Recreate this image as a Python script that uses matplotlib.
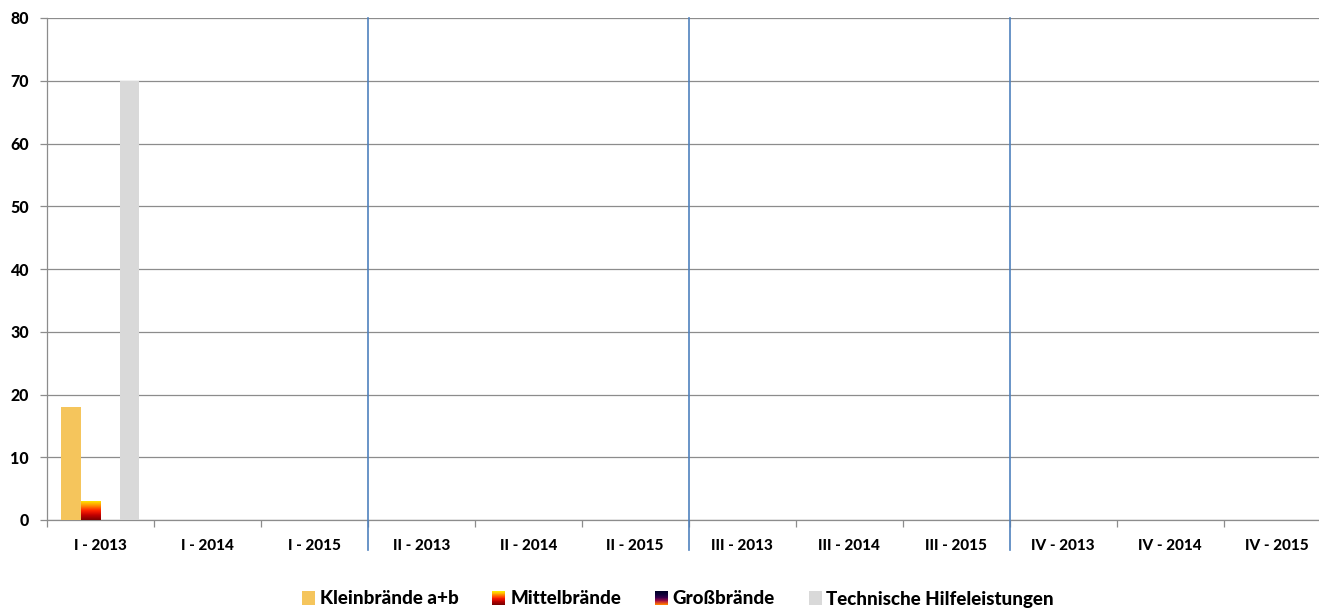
import numpy as np
import matplotlib
matplotlib.use("Agg")
import matplotlib.pyplot as plt
from matplotlib.colors import LinearSegmentedColormap
from matplotlib.patches import Rectangle
from matplotlib.legend_handler import HandlerBase

# ---- data -------------------------------------------------------------
categories = ["I - 2013", "I - 2014", "I - 2015",
              "II - 2013", "II - 2014", "II - 2015",
              "III - 2013", "III - 2014", "III - 2015",
              "IV - 2013", "IV - 2014", "IV - 2015"]
series_names = ["Kleinbrände a+b", "Mittelbrände", "Großbrände",
                "Technische Hilfeleistungen"]
kleinbraende = [18, 0, 0, 0, 0, 0, 0, 0, 0, 0, 0, 0]
mittelbraende = [3, 0, 0, 0, 0, 0, 0, 0, 0, 0, 0, 0]
grossbraende = [0, 0, 0, 0, 0, 0, 0, 0, 0, 0, 0, 0]
hilfeleistungen = [70, 0, 0, 0, 0, 0, 0, 0, 0, 0, 0, 0]
y_ticks = [0, 10, 20, 30, 40, 50, 60, 70, 80]

# ---- styles -----------------------------------------------------------
FONT = ["Lato", "DejaVu Sans"]
WEIGHT = 900
plt.rcParams["font.family"] = FONT
plt.rcParams["font.weight"] = WEIGHT

klein_color = "#F5C55C"
hilfe_color = "#D9D9D9"
mittel_cmap = LinearSegmentedColormap.from_list(
    "mittel", ["#7A0000", "#C00000", "#FF2000", "#FF8C00", "#FFE600"])
gross_cmap = LinearSegmentedColormap.from_list(
    "gross", ["#FF7A00", "#B01040", "#400050", "#10003A", "#000028"])
grid_color = "#8C8C8C"
divider_color = "#4F81BD"

fig = plt.figure(figsize=(13.19, 6.09), dpi=100)
ax = fig.add_axes([46.7 / 1319, 89 / 609, 1284 / 1319, 502 / 609])

x = np.arange(len(categories))
w = 0.182
offsets = [-1.5 * w, -0.5 * w, 0.5 * w, 1.5 * w]

ax.bar(x + offsets[0], kleinbraende, w, color=klein_color, linewidth=0, zorder=3)
ax.bar(x + offsets[3], hilfeleistungen, w, color=hilfe_color, linewidth=0, zorder=3)


def gradient_bars(xpos, values, cmap):
    bars = ax.bar(xpos, values, w, color="none", linewidth=0, zorder=3)
    grad = np.linspace(0, 1, 256).reshape(-1, 1)
    for b, v in zip(bars, values):
        if v <= 0:
            continue
        x0 = b.get_x()
        im = ax.imshow(grad, cmap=cmap, origin="lower", aspect="auto",
                       extent=[x0, x0 + b.get_width(), 0, v], zorder=3,
                       interpolation="bilinear")
        im.set_clip_path(b)


gradient_bars(x + offsets[1], mittelbraende, mittel_cmap)
gradient_bars(x + offsets[2], grossbraende, gross_cmap)

# ---- axes -------------------------------------------------------------
ax.set_xlim(-0.5, len(categories) - 0.5)
ax.set_ylim(0, 80)
ax.set_yticks(y_ticks)
ax.set_yticklabels([str(t) for t in y_ticks], fontsize=11.5, fontweight=WEIGHT)
ax.yaxis.grid(True, color=grid_color, linewidth=0.9, zorder=0)
ax.set_axisbelow(True)

ax.set_xticks(x)
ax.set_xticklabels(categories, fontsize=11, fontweight=WEIGHT)
ax.set_xticks(np.arange(len(categories) + 1) - 0.5, minor=True)
ax.tick_params(axis="x", which="major", length=0, pad=14)
ax.tick_params(axis="x", which="minor", length=5, color=grid_color, width=0.9)
ax.tick_params(axis="y", length=5, color=grid_color, width=0.9, pad=8)

for side in ("top", "right"):
    ax.spines[side].set_visible(False)
for side in ("left", "bottom"):
    ax.spines[side].set_color(grid_color)
    ax.spines[side].set_linewidth(0.9)

# quarter dividers
for xb in (2.5, 5.5, 8.5):
    ax.plot([xb, xb], [80, -4.8], color=divider_color, linewidth=1.2,
            clip_on=False, zorder=4)


# ---- legend -----------------------------------------------------------
class GradientHandler(HandlerBase):
    def __init__(self, cmap, n=30):
        super().__init__()
        self.cmap = cmap
        self.n = n

    def create_artists(self, legend, orig_handle, xdescent, ydescent,
                       width, height, fontsize, trans):
        arts = []
        step = height / self.n
        for i in range(self.n):
            r = Rectangle((-xdescent, -ydescent + i * step), width, step * 1.05,
                          facecolor=self.cmap(i / (self.n - 1)),
                          edgecolor="none", transform=trans)
            arts.append(r)
        return arts


h_klein = Rectangle((0, 0), 1, 1, facecolor=klein_color, edgecolor="none")
h_mittel = Rectangle((0, 0), 1, 1)
h_gross = Rectangle((0, 0), 1, 1)
h_hilfe = Rectangle((0, 0), 1, 1, facecolor=hilfe_color, edgecolor="none")

fig.legend([h_klein, h_mittel, h_gross, h_hilfe], series_names,
           handler_map={h_mittel: GradientHandler(mittel_cmap),
                        h_gross: GradientHandler(gross_cmap)},
           loc="center", bbox_to_anchor=(678 / 1319, 1 - 599 / 609),
           ncol=4, frameon=False, prop={"size": 13.5, "weight": WEIGHT},
           handlelength=0.7, handleheight=0.7, handletextpad=0.25,
           columnspacing=1.8, borderaxespad=0, borderpad=0)

fig.savefig("out.png", dpi=100)
